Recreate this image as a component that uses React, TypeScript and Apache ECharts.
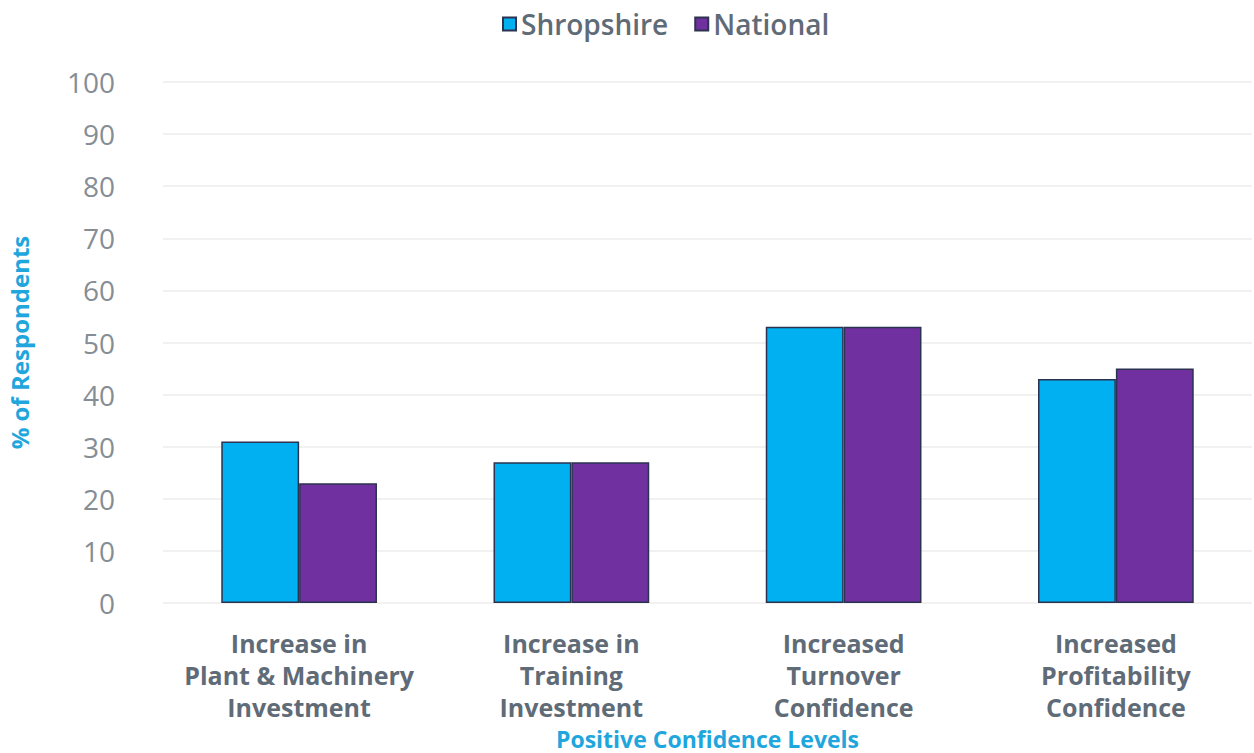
import React, { useEffect, useRef } from "react";
import * as echarts from "echarts";

const categories = [
  "Increase in\nPlant & Machinery\nInvestment",
  "Increase in\nTraining\nInvestment",
  "Increased\nTurnover\nConfidence",
  "Increased\nProfitability\nConfidence",
];
const shropshire = [31, 27, 53, 43];
const national = [23, 27, 53, 45];

const FONT = "'Open Sans', 'DejaVu Sans', sans-serif";

export default function App() {
  const ref = useRef<HTMLDivElement>(null);
  useEffect(() => {
    const chart = echarts.init(ref.current!, null, { renderer: "svg" });
    chart.setOption({
      animation: false,
      textStyle: { fontFamily: FONT },
      legend: {
        top: 5,
        left: 497,
        icon: "rect",
        itemWidth: 13,
        itemHeight: 13,
        itemGap: 26,
        textStyle: { fontSize: 28, fontWeight: 600, color: "#5f6b77", fontFamily: FONT },
        data: ["Shropshire", "National"],
      },
      grid: { left: 163, right: 2, top: 82, bottom: 150, containLabel: false, outerBoundsMode: "none" },
      xAxis: {
        type: "category",
        data: categories,
        axisLine: { show: false },
        axisTick: { show: false },
        axisLabel: {
          fontSize: 25,
          fontWeight: 700,
          color: "#5f6b77",
          lineHeight: 32,
          margin: 24,
          interval: 0,
          fontFamily: FONT,
        },
        name: "Positive Confidence Levels",
        nameLocation: "middle",
        nameMoveOverlap: false,
        nameGap: 124,
        nameTextStyle: { fontSize: 23, fontWeight: 700, color: "#1fa6dd", fontFamily: FONT },
      },
      yAxis: {
        type: "value",
        min: 0,
        max: 100,
        interval: 10,
        axisLine: { show: false },
        axisTick: { show: false },
        splitLine: { lineStyle: { color: "#ececec", width: 1.5 } },
        axisLabel: { fontSize: 28, color: "#858d95", margin: 48, fontFamily: FONT },
        name: "% of Respondents",
        nameLocation: "middle",
        nameRotate: 90,
        nameGap: 132,
        nameTextStyle: { fontSize: 24, fontWeight: 700, color: "#1fa6dd", fontFamily: FONT },
      },
      series: [
        {
          name: "Shropshire",
          type: "bar",
          data: shropshire,
          barGap: "0%",
          barCategoryGap: "42.8%",
          itemStyle: { color: "#00b0f0", borderColor: "#2b3350", borderWidth: 1.5 },
        },
        {
          name: "National",
          type: "bar",
          data: national,
          barGap: "0%",
          barCategoryGap: "42.8%",
          itemStyle: { color: "#7030a0", borderColor: "#2b3350", borderWidth: 1.5 },
        },
      ],
    });
    return () => chart.dispose();
  }, []);
  return <div ref={ref} style={{ width: 1254, height: 753, position: "absolute", left: 0, top: 0 }} />;
}
